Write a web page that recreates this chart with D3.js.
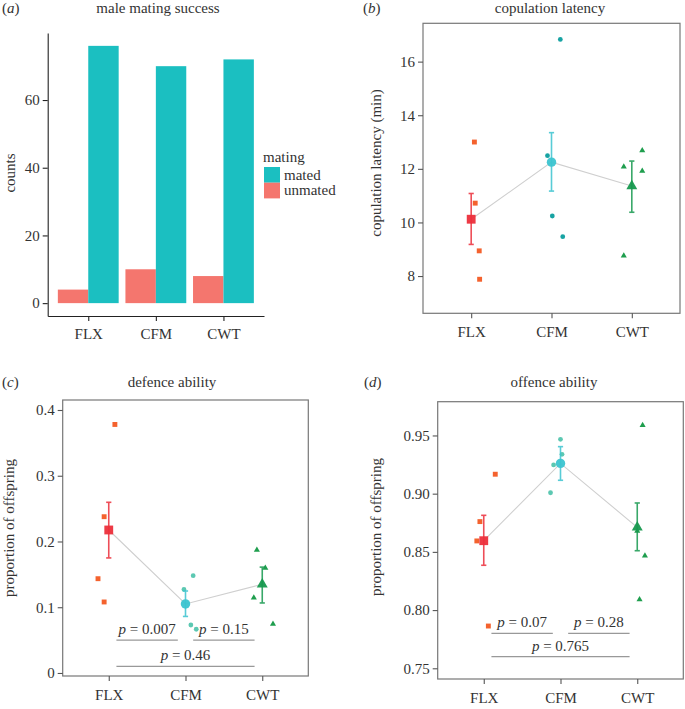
<!DOCTYPE html>
<html>
<head>
<meta charset="utf-8">
<script src="https://cdn.jsdelivr.net/npm/d3@7"></script>
<style>
  body { margin: 0; background: #fff; }
  svg text { font-family: "Liberation Serif", "Times New Roman", serif; fill: #333; }
</style>
</head>
<body>
<svg id="chart" width="685" height="709"></svg>
<script>
// ---------------- DATA ----------------
const categories = ["FLX", "CFM", "CWT"];

// (a) male mating success
const matingGroups = ["unmated", "mated"];
const matedCounts = [76, 70, 72];
const unmatedCounts = [4, 10, 8];
const countTicks = [0, 20, 40, 60];

// (b) copulation latency (min)
const latencyMean = [10.12, 12.25, 11.36];
const latencyLow = [9.18, 11.17, 10.38];
const latencyHigh = [11.08, 13.35, 12.29];
const latencyPoints = [
  [13.0, 10.72, 8.94, 7.88],
  [12.49, 16.83, 10.24, 9.47],
  [12.08, 12.68, 11.92, 8.76]
];
const latencyJitter = [
  [0.04, 0.05, 0.10, 0.105],
  [-0.05, 0.11, 0.01, 0.14],
  [-0.10, 0.13, 0.13, -0.10]
];
const latencyTicks = [8, 10, 12, 14, 16];

// (c) defence ability
const defenceMean = [0.2175, 0.105, 0.135];
const defenceLow = [0.175, 0.086, 0.1065];
const defenceHigh = [0.2596, 0.1247, 0.161];
const defencePoints = [
  [0.2377, 0.378, 0.1434, 0.108],
  [0.127, 0.148, 0.073, 0.0665],
  [0.187, 0.1597, 0.1145, 0.0745]
];
const defenceJitter = [
  [-0.06, 0.08, -0.14, -0.06],
  [-0.02, 0.10, 0.07, 0.14],
  [-0.07, 0.04, -0.11, 0.14]
];
const defenceTicks = [0, 0.1, 0.2, 0.3, 0.4];
const defenceTickLabels = ["0", "0.1", "0.2", "0.3", "0.4"];
const defenceP = [
  { from: 1.1, to: 1.9, y: 0.050, label: "0.007" },
  { from: 2.1, to: 2.9, y: 0.050, label: "0.15" },
  { from: 1.1, to: 2.9, y: 0.010, label: "0.46" }
];

// (d) offence ability
const offenceMean = [0.8596, 0.926, 0.8711];
const offenceLow = [0.8385, 0.9115, 0.851];
const offenceHigh = [0.8814, 0.9404, 0.892];
const offencePoints = [
  [0.8594, 0.876, 0.9167, 0.7863],
  [0.9247, 0.9467, 0.9338, 0.9008],
  [0.9588, 0.8467, 0.809, 0.868]
];
const offenceJitter = [
  [-0.09, -0.05, 0.15, 0.06],
  [-0.09, 0.0, 0.02, -0.13],
  [0.07, 0.10, 0.03, 0.0]
];
const offenceTicks = [0.75, 0.80, 0.85, 0.90, 0.95];
const offenceTickLabels = ["0.75", "0.80", "0.85", "0.90", "0.95"];
const offenceP = [
  { from: 1.1, to: 1.9, y: 0.780, label: "0.07" },
  { from: 2.1, to: 2.9, y: 0.780, label: "0.28" },
  { from: 1.1, to: 2.9, y: 0.760, label: "0.765" }
];

// ---------------- STYLE ----------------
const barColors = { mated: "#1BBFC1", unmated: "#F4766E" };
const meanColors = ["#EC2F3B", "#3CC4D0", "#17994F"];
const pointColorsB = ["#F4622E", "#17A3A3", "#1F9E4E"];
const pointColorsCD = ["#F4622E", "#5CC8B2", "#1F9E4E"];
const meanShapes = [d3.symbolSquare, d3.symbolCircle, d3.symbolTriangle];
const meanSizes = [78, 70, 52];
const pointSizes = [24, 18, 16];

const svg = d3.select("#chart");
const FS = 15;

function panelLabel(x, y, letter) {
  const t = svg.append("text").attr("x", x).attr("y", y).style("font-size", FS + "px");
  t.append("tspan").text("(");
  t.append("tspan").style("font-style", "italic").text(letter);
  t.append("tspan").text(")");
}
function title(x, y, s) {
  svg.append("text").attr("x", x).attr("y", y).attr("text-anchor", "middle")
    .style("font-size", FS + "px").text(s);
}
function yLabel(x, y, s) {
  svg.append("text").attr("transform", `translate(${x},${y}) rotate(-90)`)
    .attr("text-anchor", "middle").style("font-size", FS + "px").text(s);
}
function styleAxis(g, color) {
  g.selectAll("path").attr("stroke", color).attr("stroke-width", 1.1);
  g.selectAll("line").attr("stroke", color).attr("stroke-width", 1.1);
  g.selectAll("text").style("font-size", FS + "px")
    .style("font-family", '"Liberation Serif", "Times New Roman", serif').attr("fill", "#333");
}

// ---------------- PANEL A ----------------
(function () {
  const x = d3.scaleLinear().domain([0.4, 3.6]).range([47.7, 264]);
  const y = d3.scaleLinear().domain([-3.8, 79.8]).range([316, 33]);
  const bw = 0.45;
  const g = svg.append("g");
  matingGroups.forEach((grp, gi) => {
    const vals = grp === "mated" ? matedCounts : unmatedCounts;
    g.selectAll(null).data(vals).enter().append("rect")
      .attr("x", (d, i) => x(i + 1 - bw + gi * bw))
      .attr("width", x(bw) - x(0))
      .attr("y", d => y(d))
      .attr("height", d => y(0) - y(d))
      .attr("fill", barColors[grp]);
  });
  const ya = g.append("g").attr("transform", `translate(${x(0.4)},0)`)
    .call(d3.axisLeft(y).tickValues(countTicks).tickSize(5).tickPadding(3).tickSizeOuter(0));
  styleAxis(ya, "#222");
  const xa = g.append("g").attr("transform", `translate(0,${y(-3.8)})`)
    .call(d3.axisBottom(x).tickValues([1, 2, 3]).tickFormat(d => categories[d - 1])
      .tickSize(5).tickPadding(7).tickSizeOuter(0));
  styleAxis(xa, "#222");
  // legend
  svg.append("text").attr("x", 263).attr("y", 162).style("font-size", FS + "px").text("mating");
  ["mated", "unmated"].forEach((grp, i) => {
    svg.append("rect").attr("x", 264).attr("y", 167 + i * 15.7).attr("width", 16).attr("height", 15.7)
      .attr("fill", barColors[grp]);
    svg.append("text").attr("x", 284).attr("y", 167 + i * 15.7 + 7.8).attr("dy", "0.33em")
      .style("font-size", FS + "px").text(grp);
  });
  panelLabel(2, 13, "a");
  title(158, 13, "male mating success");
  yLabel(15, 173, "counts");
})();

// ---------------- generic dot panel ----------------
function dotPanel(opt) {
  const x = d3.scaleLinear().domain([0.4, 3.6]).range([opt.left, opt.right]);
  const y = d3.scaleLinear().domain(opt.ydom).range([opt.bottom, opt.top]);
  const g = svg.append("g");
  g.append("rect").attr("x", opt.left).attr("y", opt.top)
    .attr("width", opt.right - opt.left).attr("height", opt.bottom - opt.top)
    .attr("fill", "none").attr("stroke", "#777").attr("stroke-width", 1.2);
  const ya = g.append("g").attr("transform", `translate(${opt.left},0)`)
    .call(d3.axisLeft(y).tickValues(opt.ticks)
      .tickFormat((d, i) => opt.tickLabels ? opt.tickLabels[i] : d)
      .tickSize(5).tickPadding(3).tickSizeOuter(0));
  ya.select(".domain").remove();
  styleAxis(ya, "#555");
  const xa = g.append("g").attr("transform", `translate(0,${opt.bottom})`)
    .call(d3.axisBottom(x).tickValues([1, 2, 3]).tickFormat(d => categories[d - 1])
      .tickSize(5).tickPadding(8).tickSizeOuter(0));
  xa.select(".domain").remove();
  styleAxis(xa, "#555");

  // p-value annotations
  (opt.pvals || []).forEach(p => {
    g.append("line").attr("x1", x(p.from)).attr("x2", x(p.to))
      .attr("y1", y(p.y)).attr("y2", y(p.y)).attr("stroke", "#999").attr("stroke-width", 1.2);
    const t = g.append("text").attr("x", (x(p.from) + x(p.to)) / 2).attr("y", y(p.y) - 6)
      .attr("text-anchor", "middle").style("font-size", FS + "px");
    t.append("tspan").style("font-style", "italic").text("p");
    t.append("tspan").text(" = " + p.label);
  });

  // connecting line
  g.append("path").datum(opt.mean)
    .attr("d", d3.line().x((d, i) => x(i + 1)).y(d => y(d)))
    .attr("fill", "none").attr("stroke", "#cfcfcf").attr("stroke-width", 1.1);

  // raw points
  opt.points.forEach((arr, ci) => {
    g.selectAll(null).data(arr).enter().append("path")
      .attr("transform", (d, j) => `translate(${x(ci + 1 + opt.jitter[ci][j])},${y(d)})`)
      .attr("d", d3.symbol().type(meanShapes[ci]).size(pointSizes[ci]))
      .attr("fill", opt.pointColors[ci]);
  });

  // error bars + means
  opt.mean.forEach((m, ci) => {
    const cx = x(ci + 1);
    const col = meanColors[ci];
    const eb = g.append("g").attr("stroke", col).attr("stroke-width", 1.6).attr("opacity", 0.85);
    eb.append("line").attr("x1", cx).attr("x2", cx).attr("y1", y(opt.low[ci])).attr("y2", y(opt.high[ci]));
    [opt.low[ci], opt.high[ci]].forEach(v => {
      eb.append("line").attr("x1", cx - 2.6).attr("x2", cx + 2.6).attr("y1", y(v)).attr("y2", y(v));
    });
    g.append("path").attr("transform", `translate(${cx},${y(m)})`)
      .attr("d", d3.symbol().type(meanShapes[ci]).size(meanSizes[ci]))
      .attr("fill", col).attr("opacity", 0.95);
  });
}

// ---------------- PANEL B ----------------
dotPanel({
  left: 423, right: 680, top: 23.3, bottom: 313.3,
  ydom: [6.61, 17.43], ticks: latencyTicks,
  mean: latencyMean, low: latencyLow, high: latencyHigh,
  points: latencyPoints, jitter: latencyJitter, pointColors: pointColorsB
});
panelLabel(363, 13, "b");
title(550, 13, "copulation latency");
yLabel(381, 163, "copulation latency (min)");

// ---------------- PANEL C ----------------
dotPanel({
  left: 62.7, right: 308.3, top: 400, bottom: 676,
  ydom: [-0.0046, 0.4152], ticks: defenceTicks, tickLabels: defenceTickLabels,
  mean: defenceMean, low: defenceLow, high: defenceHigh,
  points: defencePoints, jitter: defenceJitter, pointColors: pointColorsCD,
  pvals: defenceP
});
panelLabel(2, 387, "c");
title(172, 387, "defence ability");
yLabel(14, 528, "proportion of offspring");

// ---------------- PANEL D ----------------
dotPanel({
  left: 437.7, right: 683.3, top: 401.7, bottom: 679,
  ydom: [0.7408, 0.979], ticks: offenceTicks, tickLabels: offenceTickLabels,
  mean: offenceMean, low: offenceLow, high: offenceHigh,
  points: offencePoints, jitter: offenceJitter, pointColors: pointColorsCD,
  pvals: offenceP
});
panelLabel(364, 387, "d");
title(554, 387, "offence ability");
yLabel(381, 527, "proportion of offspring");
</script>
</body>
</html>
